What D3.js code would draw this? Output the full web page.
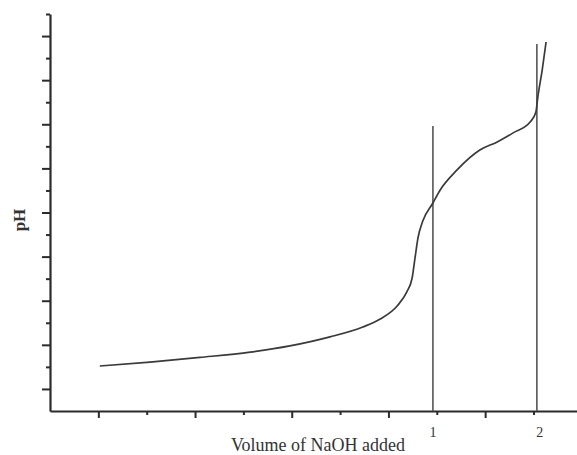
<!DOCTYPE html>
<html>
<head>
<meta charset="utf-8">
<script src="https://cdn.jsdelivr.net/npm/d3@7"></script>
<style>
  body { margin: 0; background: #fff; }
  svg { display: block; }
</style>
</head>
<body>
<div id="chart"></div>
<script>
// titration curve (x in tick units, y in tick units)
const curveX = [1.03, 2.07, 3.10, 4.14, 4.96, 5.79, 6.47, 6.83, 7.18, 7.38, 7.49, 7.55, 7.61, 7.71, 7.92, 8.07, 8.42, 8.89, 9.25, 9.58, 9.93, 10.05, 10.09, 10.18, 10.26];
const curveY = [2.04, 2.22, 2.43, 2.67, 2.95, 3.36, 3.81, 4.17, 4.76, 5.40, 6.03, 6.94, 7.84, 8.61, 9.43, 10.02, 10.93, 11.83, 12.20, 12.61, 13.10, 13.56, 14.24, 15.46, 16.73];

// equivalence point markers
const eqX = [7.92, 10.07];
const eqTop = [12.92, 16.64];
const eqLabels = ['1', '2'];

const xTicks = [1, 2, 3, 4, 5, 6, 7, 8, 9, 10];
const yTicks = d3.range(1, 19);

const width = 577, height = 455;

const svg = d3.select('#chart')
    .append('svg')
    .attr('width', width)
    .attr('height', height);

let x = d3.scaleLinear().domain([0, 10.9]).range([50, 577]);
let y = d3.scaleLinear().domain([0, 18]).range([411, 14]);

let ink = '#2b2b2b';

// y axis, long ticks on odd, short on even
let yAxis = svg.append('g')
    .attr('transform', 'translate(' + x(0) + ',0)')
    .call(d3.axisLeft(y).tickValues(yTicks).tickSizeOuter(0).tickFormat(''));
yAxis.selectAll('.tick line')
    .attr('x2', d => d % 2 == 1 ? -8 : -4);

// x axis
let xAxis = svg.append('g')
    .attr('transform', 'translate(0,' + y(0) + ')')
    .call(d3.axisBottom(x).tickValues(xTicks).tickSizeOuter(0).tickFormat(''));
xAxis.selectAll('.tick line')
    .attr('y2', d => d % 2 == 1 ? 7 : 4);

svg.selectAll('.domain')
    .attr('stroke', ink)
    .attr('stroke-width', 2.2);
svg.selectAll('.tick line')
    .attr('stroke', ink)
    .attr('stroke-width', 2);

// vertical lines at equivalence points
svg.selectAll('.eq')
    .data(eqX)
    .enter()
    .append('line')
    .attr('x1', d => x(d))
    .attr('x2', d => x(d))
    .attr('y1', (d, i) => y(eqTop[i]))
    .attr('y2', y(0))
    .attr('stroke', '#555')
    .attr('stroke-width', 1.6);

svg.selectAll('.eqLabel')
    .data(eqLabels)
    .enter()
    .append('text')
    .attr('x', (d, i) => x(eqX[i]) + (i == 1 ? 3 : 0))
    .attr('y', 437)
    .attr('text-anchor', 'middle')
    .style('font-family', '"Liberation Serif", serif')
    .style('font-size', '14px')
    .style('fill', '#333')
    .text(d => d);

// the curve
let pts = curveX.map((d, i) => [d, curveY[i]]);
let line = d3.line()
    .x(d => x(d[0]))
    .y(d => y(d[1]))
    .curve(d3.curveMonotoneX);

svg.append('path')
    .datum(pts)
    .attr('d', line)
    .attr('fill', 'none')
    .attr('stroke', '#3a3a3a')
    .attr('stroke-width', 1.7);

// axis titles
svg.append('text')
    .attr('x', 318)
    .attr('y', 451)
    .attr('text-anchor', 'middle')
    .style('font-family', '"Liberation Serif", serif')
    .style('font-size', '18px')
    .style('fill', '#333')
    .text('Volume of NaOH added');

svg.append('text')
    .attr('transform', 'translate(25,220) rotate(-90)')
    .attr('text-anchor', 'middle')
    .style('font-family', '"Liberation Serif", serif')
    .style('font-size', '17px')
    .style('font-weight', 'bold')
    .style('fill', '#333')
    .text('pH');
</script>
</body>
</html>
